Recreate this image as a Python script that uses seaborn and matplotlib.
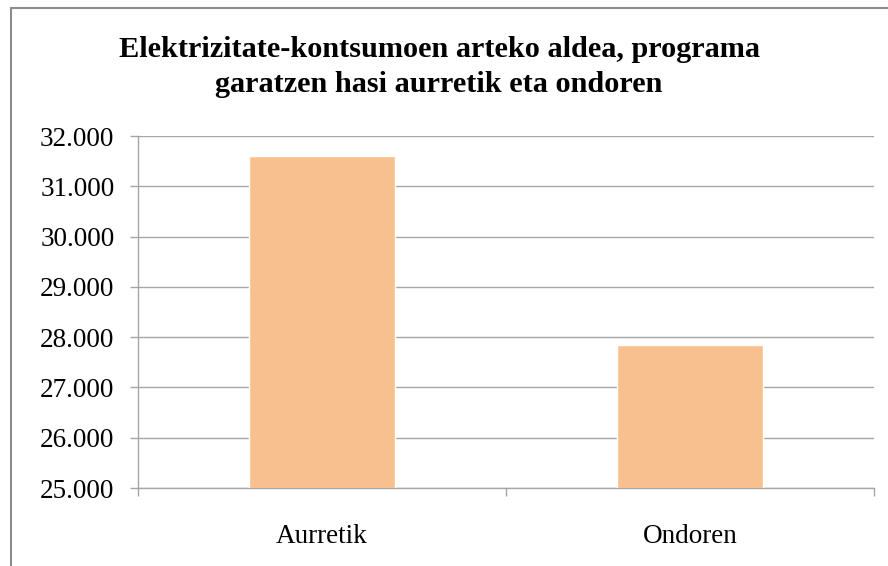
import matplotlib
matplotlib.use("Agg")
import matplotlib.pyplot as plt
import seaborn as sns
import pandas as pd
from matplotlib.ticker import FuncFormatter, FixedLocator
from matplotlib.patches import Rectangle

categories = ["Aurretik", "Ondoren"]
values = [31610, 27840]
title_text = "Elektrizitate-kontsumoen arteko aldea, programa\ngaratzen hasi aurretik eta ondoren"
y_ticks = [25000, 26000, 27000, 28000, 29000, 30000, 31000, 32000]

sns.set_theme(style="white")
plt.rcParams['font.family'] = ['Liberation Serif', 'DejaVu Serif']

df = pd.DataFrame({"cat": categories, "val": values})

fig = plt.figure(figsize=(8.88, 5.66), dpi=100)
ax = fig.add_axes([138/888, 1-488/566, (874-138)/888, (488-136)/566])

sns.barplot(data=df, x="cat", y="val", color="#F9C08F", saturation=1, width=0.397, ax=ax, zorder=3)

ax.set_ylim(25000, 32000)
ax.set_xlim(-0.5, 1.5)
ax.yaxis.set_major_locator(FixedLocator(y_ticks))
ax.yaxis.set_major_formatter(FuncFormatter(lambda v, p: f"{int(v):,}".replace(",", ".")))
ax.grid(axis="y", color="#A6A6A6", linewidth=1.0, zorder=0)
ax.set_axisbelow(True)

for s in ["top", "right"]:
    ax.spines[s].set_visible(False)
for s in ["left", "bottom"]:
    ax.spines[s].set_color("#A6A6A6")
    ax.spines[s].set_linewidth(1.0)

ax.tick_params(axis="y", which="major", left=True, length=6, width=1, color="#A6A6A6",
               labelsize=19.5, labelcolor="black", pad=11)
ax.set_xticks([-0.5, 0.5, 1.5], minor=True)
ax.tick_params(axis="x", which="minor", bottom=True, length=6, width=1, color="#A6A6A6")
ax.tick_params(axis="x", which="major", bottom=False, labelsize=19.5, labelcolor="black", pad=20)
ax.set_xlabel("")
ax.set_ylabel("")

fig.text(439/888, 1-36/566, title_text, ha="center", va="top", fontsize=21.8,
         fontweight="bold", linespacing=1.4, color="black")

fig.patches.append(Rectangle((11/888, -0.05), 1.2, 1-8/566+0.05, transform=fig.transFigure,
                             fill=False, edgecolor="#8C8C8C", linewidth=1.5))

fig.savefig("out.png", dpi=100)
